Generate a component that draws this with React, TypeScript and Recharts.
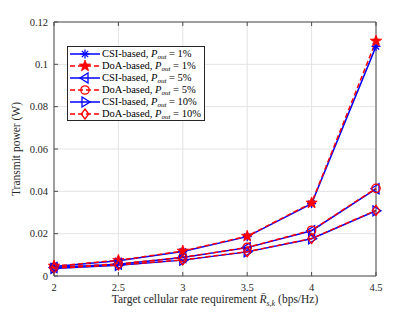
import { CartesianGrid, Line, LineChart, XAxis, YAxis } from "recharts";

const rates = [2, 2.5, 3, 3.5, 4, 4.5];
const csi1 = [0.0045, 0.0072, 0.0116, 0.0186, 0.0342, 0.1085];
const doa1 = [0.0047, 0.0074, 0.0118, 0.0188, 0.0345, 0.111];
const csi5 = [0.004, 0.0056, 0.0087, 0.0134, 0.0214, 0.0412];
const doa5 = [0.0041, 0.0057, 0.0088, 0.0135, 0.0216, 0.0414];
const csi10 = [0.0036, 0.0051, 0.0075, 0.0114, 0.0176, 0.0308];
const doa10 = [0.0037, 0.0052, 0.0076, 0.0115, 0.0177, 0.031];

const xTicks = [2, 2.5, 3, 3.5, 4, 4.5];
const yTicks = [0, 0.02, 0.04, 0.06, 0.08, 0.1, 0.12];

const BLUE = "#0000ff";
const RED = "#ff0000";
const AXIS = "#4d4d4d";
const FONT = "'Liberation Serif', 'DejaVu Serif', serif";

type Kind = "asterisk" | "star" | "left" | "circle" | "right" | "diamond";

const seriesDefs: { key: string; method: string; pout: string; kind: Kind; color: string; dashed: boolean; values: number[] }[] = [
  { key: "csi1", method: "CSI-based", pout: "1%", kind: "asterisk", color: BLUE, dashed: false, values: csi1 },
  { key: "doa1", method: "DoA-based", pout: "1%", kind: "star", color: RED, dashed: true, values: doa1 },
  { key: "csi5", method: "CSI-based", pout: "5%", kind: "left", color: BLUE, dashed: false, values: csi5 },
  { key: "doa5", method: "DoA-based", pout: "5%", kind: "circle", color: RED, dashed: true, values: doa5 },
  { key: "csi10", method: "CSI-based", pout: "10%", kind: "right", color: BLUE, dashed: false, values: csi10 },
  { key: "doa10", method: "DoA-based", pout: "10%", kind: "diamond", color: RED, dashed: true, values: doa10 },
];

const data = rates.map((r, i) => {
  const row: Record<string, number> = { r };
  seriesDefs.forEach((s) => (row[s.key] = s.values[i]));
  return row;
});

const MarkerShape = ({ cx, cy, kind, color }: { cx: number; cy: number; kind: Kind; color: string }) => {
  const sw = 1.3;
  if (kind === "asterisk") {
    const r = 4.5;
    const d = r * 0.7;
    return (
      <g stroke={color} strokeWidth={sw}>
        <line x1={cx - r} y1={cy} x2={cx + r} y2={cy} />
        <line x1={cx} y1={cy - r} x2={cx} y2={cy + r} />
        <line x1={cx - d} y1={cy - d} x2={cx + d} y2={cy + d} />
        <line x1={cx - d} y1={cy + d} x2={cx + d} y2={cy - d} />
      </g>
    );
  }
  if (kind === "star") {
    const pts: string[] = [];
    for (let k = 0; k < 10; k++) {
      const rad = k % 2 === 0 ? 6 : 2.5;
      const a = -Math.PI / 2 + (k * Math.PI) / 5;
      pts.push(`${cx + rad * Math.cos(a)},${cy + rad * Math.sin(a)}`);
    }
    return <polygon points={pts.join(" ")} fill={color} stroke={color} strokeWidth={0.8} />;
  }
  if (kind === "left") {
    const r = 5;
    return (
      <polygon
        points={`${cx - r},${cy} ${cx + r * 0.6},${cy - r} ${cx + r * 0.6},${cy + r}`}
        fill="none"
        stroke={color}
        strokeWidth={sw}
      />
    );
  }
  if (kind === "right") {
    const r = 5;
    return (
      <polygon
        points={`${cx + r},${cy} ${cx - r * 0.6},${cy - r} ${cx - r * 0.6},${cy + r}`}
        fill="none"
        stroke={color}
        strokeWidth={sw}
      />
    );
  }
  if (kind === "circle") {
    return <circle cx={cx} cy={cy} r={4.2} fill="none" stroke={color} strokeWidth={sw} />;
  }
  const r = 5;
  return (
    <polygon
      points={`${cx},${cy - r} ${cx + r * 0.75},${cy} ${cx},${cy + r} ${cx - r * 0.75},${cy}`}
      fill="none"
      stroke={color}
      strokeWidth={sw}
    />
  );
};

const fmt = (v: number) => (v === 0 ? "0" : String(Number(v.toFixed(2))));

const BottomTick = (props: any) => {
  const { x, y, payload } = props;
  const axisY = y - 8;
  return (
    <g>
      <line x1={x} x2={x} y1={axisY} y2={axisY - 4} stroke={AXIS} />
      <text x={x} y={axisY + 15} textAnchor="middle" fontSize={10.5} fontFamily={FONT} fill="#262626">
        {fmt(payload.value)}
      </text>
    </g>
  );
};

const LeftTick = (props: any) => {
  const { x, y, payload } = props;
  const axisX = x + 6;
  return (
    <g>
      <line x1={axisX} x2={axisX + 4} y1={y} y2={y} stroke={AXIS} />
      <text x={x} y={y + 3.5} textAnchor="end" fontSize={10.5} fontFamily={FONT} fill="#262626">
        {fmt(payload.value)}
      </text>
    </g>
  );
};

const TopTick = (props: any) => {
  const { x, y } = props;
  return <line x1={x} x2={x} y1={y} y2={y + 4} stroke={AXIS} />;
};

const RightTick = (props: any) => {
  const { x, y } = props;
  return <line x1={x} x2={x - 4} y1={y} y2={y} stroke={AXIS} />;
};

const XLabel = (props: any) => {
  const { viewBox } = props;
  const cx = viewBox.x + viewBox.width / 2;
  return (
    <text x={cx} y={303} textAnchor="middle" fontSize={11.5} fontFamily={FONT} fill="#262626">
      Target cellular rate requirement{" "}
      <tspan fontStyle="italic">R̄</tspan>
      <tspan fontStyle="italic" fontSize={8} dy={2.5}>s,k</tspan>
      <tspan dy={-2.5}> (bps/Hz)</tspan>
    </text>
  );
};

const YLabel = (props: any) => {
  const { viewBox } = props;
  const cy = viewBox.y + viewBox.height / 2;
  return (
    <text
      x={20}
      y={cy}
      textAnchor="middle"
      fontSize={11.5}
      fontFamily={FONT}
      fill="#262626"
      transform={`rotate(-90, 20, ${cy})`}
    >
      Transmit power (W)
    </text>
  );
};

const LegendBox = () => (
  <div
    style={{
      position: "absolute",
      left: 67,
      top: 46,
      width: 138,
      height: 75,
      border: "1px solid #262626",
      background: "#fff",
      fontFamily: FONT,
      fontSize: 10.5,
      lineHeight: "12px",
      color: "#000",
      boxSizing: "border-box",
      paddingTop: 1,
    }}
  >
    {seriesDefs.map((s) => (
      <div key={s.key} style={{ display: "flex", alignItems: "center", height: 12, whiteSpace: "nowrap" }}>
        <svg width={34} height={12} style={{ flex: "none" }}>
          <line
            x1={2}
            x2={32}
            y1={6}
            y2={6}
            stroke={s.color}
            strokeWidth={1.5}
            strokeDasharray={s.dashed ? "5 3" : undefined}
          />
          <MarkerShape cx={17} cy={6} kind={s.kind} color={s.color} />
        </svg>
        <span style={{ lineHeight: "12px" }}>
          {s.method}, <i>P</i>
          <span style={{ fontSize: 7, fontStyle: "italic", position: "relative", top: 1.5, lineHeight: 0 }}>out</span> = {s.pout}
        </span>
      </div>
    ))}
  </div>
);

export default function App() {
  return (
    <div style={{ position: "absolute", left: 0, top: 0, width: 415, height: 312, background: "#fff" }}>
      <LineChart
        width={415}
        height={312}
        data={data}
        margin={{ top: 21, right: 38, bottom: 0, left: 0 }}
      >
        <CartesianGrid stroke="#e3e3e3" strokeWidth={1} />
        <XAxis
          dataKey="r"
          type="number"
          domain={[2, 4.5]}
          ticks={xTicks}
          height={36}
          stroke={AXIS}
          tickLine={false}
          tickSize={0}
          tickMargin={8}
          tick={<BottomTick />}
          label={<XLabel />}
        />
        <XAxis
          xAxisId="top"
          orientation="top"
          dataKey="r"
          type="number"
          domain={[2, 4.5]}
          ticks={xTicks}
          height={1}
          stroke={AXIS}
          tickLine={false}
          tickSize={0}
          tickMargin={0}
          tick={<TopTick />}
        />
        <YAxis
          type="number"
          domain={[0, 0.12]}
          ticks={yTicks}
          width={54}
          stroke={AXIS}
          tickLine={false}
          tickSize={0}
          tickMargin={6}
          tick={<LeftTick />}
          label={<YLabel />}
        />
        <YAxis
          yAxisId="right"
          orientation="right"
          type="number"
          domain={[0, 0.12]}
          ticks={yTicks}
          width={1}
          stroke={AXIS}
          tickLine={false}
          tickSize={0}
          tickMargin={0}
          tick={<RightTick />}
        />
        {seriesDefs.map((s) => (
          <Line
            key={s.key}
            dataKey={s.key}
            type="linear"
            stroke={s.color}
            strokeWidth={1.5}
            strokeDasharray={s.dashed ? "5 3" : undefined}
            isAnimationActive={false}
            dot={(p: any) => <MarkerShape key={`${s.key}-${p.index}`} cx={p.cx} cy={p.cy} kind={s.kind} color={s.color} />}
            activeDot={false}
          />
        ))}
      </LineChart>
      <LegendBox />
    </div>
  );
}
